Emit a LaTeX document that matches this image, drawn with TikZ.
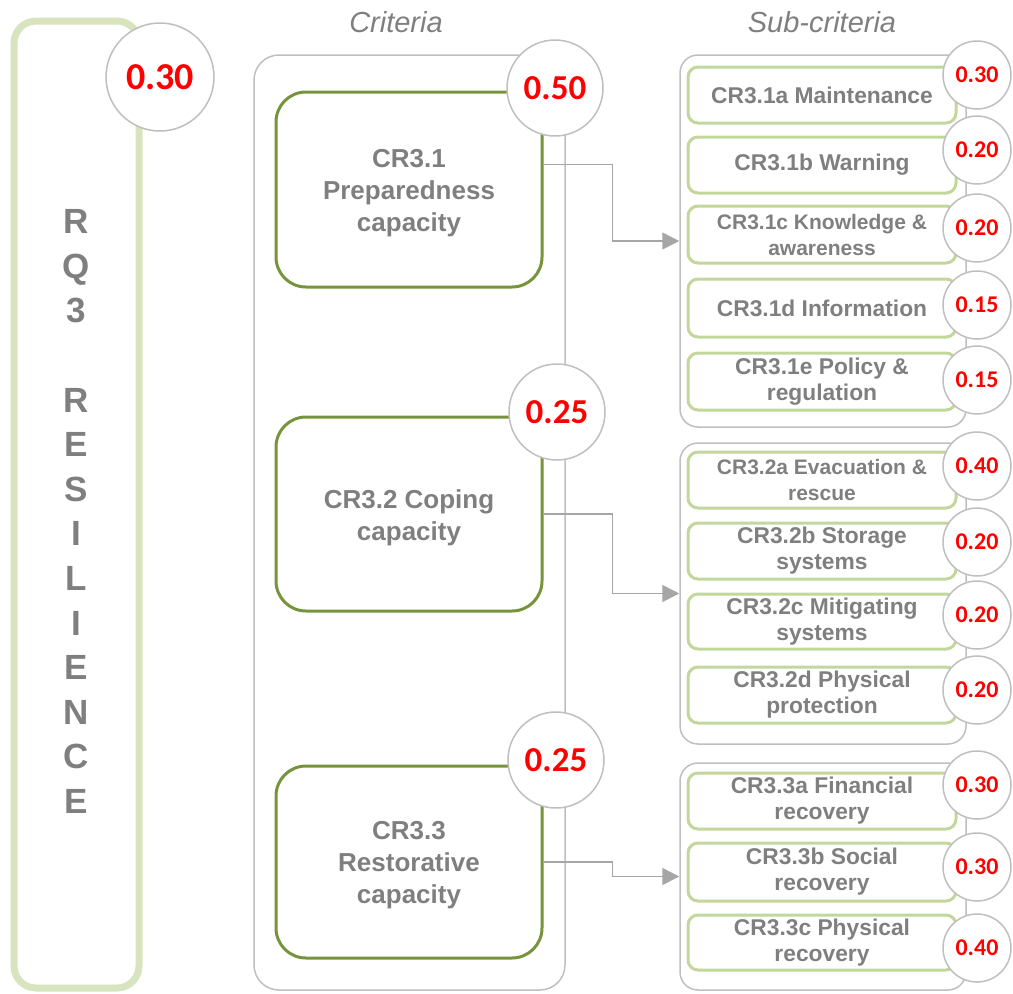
\documentclass[tikz,border=0pt]{standalone}
\usepackage{fontspec}
\setmainfont{Liberation Sans}
\newfontfamily\numfont{Carlito}
\usetikzlibrary{arrows.meta}
\definecolor{txtgray}{HTML}{7F7F7F}
\definecolor{framegray}{HTML}{BFBFBF}
\definecolor{linkgray}{HTML}{A6A6A6}
\definecolor{olive}{HTML}{77933C}
\definecolor{palegreen}{HTML}{C3D69B}
\definecolor{rqgreen}{HTML}{D7E4BD}
\definecolor{wred}{HTML}{FF0000}
\newcommand{\fs}[2]{\fontsize{#1}{#2}\selectfont}
\tikzset{
  rqbox/.style={draw=rqgreen, line width=7pt, rounded corners=22pt, inner sep=0pt,
    minimum width=125pt, minimum height=967pt},
  critframe/.style={draw=framegray, line width=1.5pt, rounded corners=25pt, inner sep=0pt},
  crbox/.style={draw=olive, line width=3pt, rounded corners=30pt, inner sep=0pt,
    minimum width=266pt},
  crtext/.style={text=txtgray, align=center, font=\bfseries\fs{26}{32}, yshift=-3.5pt},
  grpframe/.style={draw=framegray, line width=1.5pt, rounded corners=18pt, inner sep=0pt,
    minimum width=286pt},
  subbox/.style={draw=palegreen, line width=3pt, rounded corners=10pt, inner sep=0pt,
    minimum width=268pt, text=txtgray, align=center, font=\bfseries\fs{22.8}{26}},
  narrowtext/.style={font=\bfseries\fs{21}{26}},
  wcircle/.style={circle, draw=framegray, fill=white, line width=1.5pt, inner sep=0pt,
    text=wred, font=\numfont\bfseries\fs{24}{24}, minimum size=68pt},
  bigcircle/.style={wcircle, minimum size=96pt, font=\numfont\bfseries\fs{35}{35}},
  link/.style={draw=linkgray, line width=1.5pt, -{Triangle[length=17pt,width=17pt]}},
  heading/.style={text=txtgray, font=\itshape\fs{29}{29}}
}
\begin{document}
\begin{tikzpicture}[x=1pt,y=-1pt]
\useasboundingbox (0,0) rectangle (1013,994);

% headings
\node[heading] (hcrit) at (396,22) {Criteria};
\node[heading] (hsub) at (822,22) {Sub-criteria};

% goal column
\node[rqbox] (rq) at (76.5,504.5) {};
\node[text=txtgray, align=center, font=\bfseries\fs{35}{44.6}] (rqtext) at (76,511.5)
  {R\\Q\\3\\ \\R\\E\\S\\I\\L\\I\\E\\N\\C\\E};
\node[bigcircle, minimum size=108pt, font=\numfont\bfseries\fs{38}{38}] (wrq) at (160,77) {0.30};

% criteria column
\node[critframe, minimum width=311pt, minimum height=935pt] (crit) at (409.5,522.5) {};
\node[crbox, minimum height=195pt, label={[crtext]center:CR3.1\\Preparedness\\capacity}] (c1) at (409,189.5) {};
\node[crbox, minimum height=194pt, label={[crtext]center:CR3.2 Coping\\capacity}] (c2) at (409,514) {};
\node[crbox, minimum height=192pt, label={[crtext]center:CR3.3\\Restorative\\capacity}] (c3) at (409,862) {};
\node[bigcircle] (w1) at (555,88) {0.50};
\node[bigcircle] (w2) at (557,412) {0.25};
\node[bigcircle] (w3) at (556,760) {0.25};

% sub-criteria groups
\node[grpframe, minimum height=372pt] (g1) at (823,241) {};
\node[grpframe, minimum height=301pt] (g2) at (823,593.5) {};
\node[grpframe, minimum height=227pt] (g3) at (823,876.5) {};

% group 1
\node[subbox, minimum height=56pt] (s1a) at (822,95) {CR3.1a Maintenance};
\node[subbox, minimum height=56pt] (s1b) at (822,165) {CR3.1b Warning};
\node[subbox, narrowtext, minimum height=57pt] (s1c) at (822,234.5) {CR3.1c Knowledge \&\\awareness};
\node[subbox, minimum height=58pt] (s1d) at (822,308) {CR3.1d Information};
\node[subbox, minimum height=57pt] (s1e) at (822,381.5) {CR3.1e Policy \&\\regulation};
\node[wcircle] (v1a) at (977,75) {0.30};
\node[wcircle] (v1b) at (977,150) {0.20};
\node[wcircle] (v1c) at (977,228) {0.20};
\node[wcircle] (v1d) at (977,305) {0.15};
\node[wcircle] (v1e) at (977,380) {0.15};

% group 2
\node[subbox, narrowtext, minimum height=56pt] (s2a) at (822,480) {CR3.2a Evacuation \&\\rescue};
\node[subbox, minimum height=56pt] (s2b) at (822,551) {CR3.2b Storage\\systems};
\node[subbox, minimum height=55pt] (s2c) at (822,621.5) {CR3.2c Mitigating\\systems};
\node[subbox, minimum height=56pt] (s2d) at (822,695) {CR3.2d Physical\\protection};
\node[wcircle] (v2a) at (977,466) {0.40};
\node[wcircle] (v2b) at (977,542) {0.20};
\node[wcircle] (v2c) at (977,615) {0.20};
\node[wcircle] (v2d) at (977,690) {0.20};

% group 3
\node[subbox, minimum height=56pt] (s3a) at (822,801) {CR3.3a Financial\\recovery};
\node[subbox, minimum height=58pt] (s3b) at (822,872) {CR3.3b Social\\recovery};
\node[subbox, minimum height=55pt] (s3c) at (822,942.5) {CR3.3c Physical\\recovery};
\node[wcircle] (v3a) at (977,785) {0.30};
\node[wcircle] (v3b) at (977,867) {0.30};
\node[wcircle] (v3c) at (977,948) {0.40};

% connectors from criteria to their sub-criteria
\draw[link] ([yshift=25pt]c1.east) -- ++(69,0) |- (g1.west);
\draw[link] (c2.east) -- ++(69,0) |- (g2.west);
\draw[link] (c3.east) -- ++(69,0) |- (g3.west);
\end{tikzpicture}
\end{document}
